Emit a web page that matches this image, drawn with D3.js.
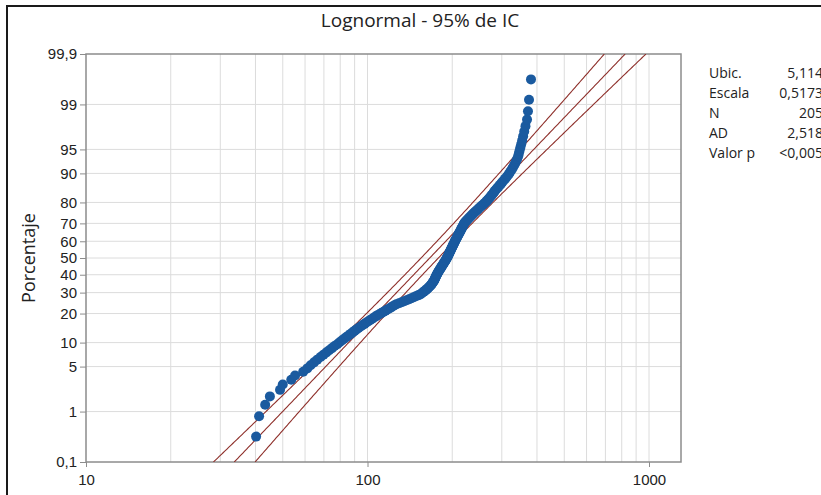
<!DOCTYPE html>
<html>
<head>
<meta charset="utf-8">
<script src="https://cdnjs.cloudflare.com/ajax/libs/d3/7.8.5/d3.min.js"></script>
<style>
  body { margin: 0; background: #fff; }
  svg { display: block; font-family: "Open Sans", "Noto Sans", sans-serif; }
  .grid line { stroke: #dcdcdc; stroke-width: 1; }
  .axis path, .axis line { stroke: #8c8c8c; }
  .axis text { font-size: 15px; fill: #222; }
</style>
</head>
<body>
<script>
// sorted sample values (205 obs)
const values = [
  40.2, 41.2, 43.3, 45.0, 48.9, 50.0, 53.6, 55.3, 59.1, 61.1,
  62.8, 64.6, 66.3, 68.1, 69.8, 71.5, 73.1, 74.8, 76.4, 78.1,
  79.6, 81.1, 82.6, 84.1, 85.6, 87.1, 88.5, 90.0, 91.4, 92.9,
  94.5, 96.0, 97.6, 99.1, 100.7, 102.3, 103.9, 105.5, 107.1, 108.7,
  110.5, 112.3, 114.1, 115.9, 117.7, 119.5, 121.3, 123.0, 124.8, 126.6,
  129.4, 132.2, 134.9, 137.7, 140.5, 143.2, 145.9, 148.5, 151.2, 153.9,
  155.5, 157.0, 158.6, 160.1, 161.7, 162.9, 164.1, 165.3, 166.5, 167.7,
  168.6, 169.5, 170.3, 171.2, 172.1, 172.6, 173.2, 173.7, 174.3, 174.8,
  175.4, 176.0, 176.6, 177.2, 177.8, 178.6, 179.3, 180.1, 180.8, 181.6,
  182.4, 183.1, 183.9, 184.6, 185.4, 186.2, 187.0, 187.7, 188.5, 189.3,
  190.0, 190.7, 191.4, 192.1, 192.8, 193.4, 194.0, 194.6, 195.2, 195.8,
  196.4, 197.0, 197.7, 198.3, 198.9, 199.5, 200.2, 200.8, 201.5, 202.1,
  202.8, 203.5, 204.1, 204.8, 205.5, 206.2, 207.0, 207.7, 208.5, 209.2,
  210.0, 210.8, 211.6, 212.4, 213.2, 214.0, 214.8, 215.6, 216.4, 217.2,
  218.0, 218.9, 219.7, 220.6, 221.4, 223.1, 224.8, 226.4, 228.1, 229.8,
  231.7, 233.6, 235.4, 237.3, 239.2, 241.4, 243.6, 245.8, 248.0, 250.2,
  252.8, 255.4, 258.1, 260.7, 263.3, 265.6, 267.8, 270.1, 272.3, 274.6,
  276.9, 279.2, 281.4, 283.7, 286.0, 289.0, 292.1, 295.1, 298.2, 301.2,
  304.6, 308.0, 311.5, 314.9, 318.3, 321.5, 324.7, 327.8, 331.0, 334.2,
  337.1, 340.1, 342.9, 344.8, 346.9, 349.2, 351.6, 354.3, 357.2, 360.3,
  364.1, 368.7, 371.6, 374.8, 380.9
];

// fitted lognormal (from the summary table)
const statNames = ['Ubic.', 'Escala', 'N', 'AD', 'Valor p'];
const statText = ['5,114', '0,5173', '205', '2,518', '<0,005'];
const fit = [5.114, 0.5173, 205];

const yTicks = [0.1, 1, 5, 10, 20, 30, 40, 50, 60, 70, 80, 90, 95, 99, 99.9];
const yTickLabels = ['0,1', '1', '5', '10', '20', '30', '40', '50', '60', '70', '80', '90', '95', '99', '99,9'];
const xTicks = [10, 100, 1000];
const xGrid = [20, 30, 40, 50, 60, 70, 80, 90, 100, 200, 300, 400, 500, 600, 700, 800, 900, 1000];

// inverse normal cdf (Acklam)
function probit(p) {
  const a = [-39.69683028665376, 220.9460984245205, -275.9285104469687, 138.357751867269, -30.66479806614716, 2.506628277459239];
  const b = [-54.47609879822406, 161.5858368580409, -155.6989798598866, 66.80131188771972, -13.28068155288572];
  const c = [-0.007784894002430293, -0.3223964580411365, -2.400758277161838, -2.549732539343734, 4.374664141464968, 2.938163982698783];
  const d = [0.007784695709041462, 0.3224671290700398, 2.445134137142996, 3.754408661907416];
  const pl = 0.02425;
  let q, r;
  if (p < pl) {
    q = Math.sqrt(-2 * Math.log(p));
    return (((((c[0]*q+c[1])*q+c[2])*q+c[3])*q+c[4])*q+c[5]) / ((((d[0]*q+d[1])*q+d[2])*q+d[3])*q+1);
  }
  if (p > 1 - pl) {
    q = Math.sqrt(-2 * Math.log(1 - p));
    return -(((((c[0]*q+c[1])*q+c[2])*q+c[3])*q+c[4])*q+c[5]) / ((((d[0]*q+d[1])*q+d[2])*q+d[3])*q+1);
  }
  q = p - 0.5; r = q * q;
  return (((((a[0]*r+a[1])*r+a[2])*r+a[3])*r+a[4])*r+a[5])*q / (((((b[0]*r+b[1])*r+b[2])*r+b[3])*r+b[4])*r+1);
}

const W = 821, H = 495;
const pL = 86, pR = 681, pT = 54, pB = 462;

let svg = d3.select(document.body).append('svg')
  .attr('width', W)
  .attr('height', H);

// outer frame (only left/top visible in the source)
svg.append('path')
  .attr('d', `M7,${H}V6H${W}`)
  .attr('fill', 'none')
  .attr('stroke', '#1a1a1a')
  .attr('stroke-width', 2);

let x = d3.scaleLog().domain([10, 1000]).range([pL, 649]);
let zMin = probit(0.001), zMax = probit(0.999);
let y = d3.scaleLinear().domain([zMin, zMax]).range([pB, pT]);

// grid
let grid = svg.append('g').attr('class', 'grid');
grid.selectAll('.gx')
  .data(xGrid)
  .enter().append('line')
  .attr('x1', d => x(d)).attr('x2', d => x(d))
  .attr('y1', pT).attr('y2', pB);
grid.selectAll('.gy')
  .data(yTicks.slice(1, -1))
  .enter().append('line')
  .attr('x1', pL).attr('x2', pR)
  .attr('y1', d => y(probit(d / 100))).attr('y2', d => y(probit(d / 100)));

// plot frame
svg.append('rect')
  .attr('x', pL).attr('y', pT)
  .attr('width', pR - pL).attr('height', pB - pT)
  .attr('fill', 'none')
  .attr('stroke', '#8c8c8c')
  .attr('stroke-width', 1.5);

// axes
svg.append('g')
  .attr('class', 'axis')
  .attr('transform', `translate(0,${pB})`)
  .call(d3.axisBottom(x).tickValues(xTicks).tickFormat(d3.format('d')).tickSize(5).tickPadding(7))
  .call(g => g.select('.domain').remove());

svg.append('g')
  .attr('class', 'axis')
  .attr('transform', `translate(${pL},0)`)
  .call(d3.axisLeft(y).tickValues(yTicks.map(p => probit(p / 100))).tickFormat((d, i) => yTickLabels[i]).tickSize(6).tickPadding(3))
  .call(g => g.select('.domain').remove());

// fit line + 95% CI
svg.append('clipPath').attr('id', 'plotclip')
  .append('rect').attr('x', pL).attr('y', pT).attr('width', pR - pL).attr('height', pB - pT);

let mu = fit[0], sg = fit[1], n = fit[2];
let zs = d3.range(zMin, zMax + 0.001, 0.02);
let band = k => zs.map(z => [Math.exp(mu + z * sg + k * 1.959964 * sg * Math.sqrt(1 / n + z * z / (2 * n))), z]);
let line = d3.line().x(d => x(d[0])).y(d => y(d[1]));

svg.append('g')
  .attr('clip-path', 'url(#plotclip)')
  .selectAll('path')
  .data([-1, 0, 1])
  .enter().append('path')
  .attr('d', k => line(band(k)))
  .attr('fill', 'none')
  .attr('stroke', '#8e2f2a')
  .attr('stroke-width', 1.1);

// points, median ranks
let N = values.length;
svg.append('g')
  .selectAll('circle')
  .data(values)
  .enter().append('circle')
  .attr('cx', d => x(d))
  .attr('cy', (d, i) => y(probit((i + 1 - 0.3) / (N + 0.4))))
  .attr('r', 5)
  .attr('fill', '#1a5a9f');

// title + y label
svg.append('text')
  .attr('x', 420).attr('y', 27)
  .attr('text-anchor', 'middle')
  .style('font-size', '19px')
  .attr('fill', '#222')
  .text('Lognormal - 95% de IC');

svg.append('text')
  .attr('transform', 'translate(35,258) rotate(-90)')
  .attr('text-anchor', 'middle')
  .style('font-size', '18px')
  .attr('fill', '#222')
  .text('Porcentaje');

// summary table
let tbl = svg.append('g').style('font-size', '14px').attr('fill', '#222');
tbl.selectAll('.k')
  .data(statNames)
  .enter().append('text')
  .attr('x', 709).attr('y', (d, i) => 78 + i * 20)
  .text(d => d);
tbl.selectAll('.v')
  .data(statText)
  .enter().append('text')
  .attr('x', 823).attr('y', (d, i) => 78 + i * 20)
  .attr('text-anchor', 'end')
  .text(d => d);
</script>
</body>
</html>
